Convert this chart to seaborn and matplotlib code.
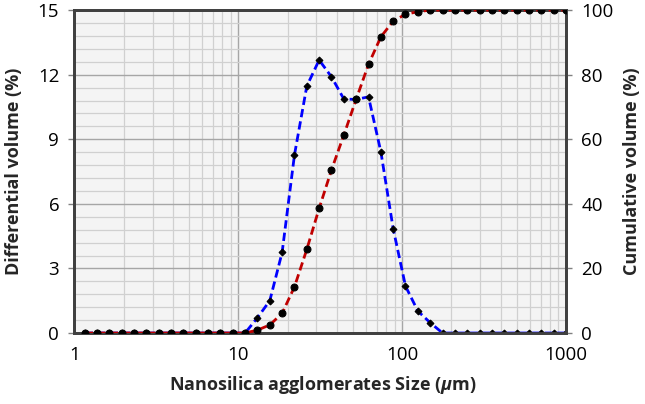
import numpy as np
import pandas as pd
import matplotlib
matplotlib.use("Agg")
import matplotlib.pyplot as plt
import seaborn as sns
from matplotlib.ticker import FixedLocator, NullFormatter, LogLocator

# particle size bins (um)
sizes = [1.154, 1.372, 1.632, 1.941, 2.309, 2.746, 3.266, 3.885, 4.620, 5.495,
         6.536, 7.775, 9.247, 11.00, 13.08, 15.56, 18.51, 22.01, 26.18, 31.14,
         37.04, 44.05, 52.40, 62.32, 74.13, 88.17, 104.8, 124.7, 148.3, 176.4,
         209.8, 249.5, 296.8, 353.0, 419.9, 499.4, 594.0, 706.5, 840.3, 1000.0]

# differential volume (%)
diff_vol = [0, 0, 0, 0, 0, 0, 0, 0, 0, 0,
            0, 0, 0, 0, 0.71, 1.50, 3.75, 8.27, 11.47, 12.68,
            11.90, 10.87, 10.85, 10.97, 8.42, 4.84, 2.18, 1.02, 0.48, 0,
            0, 0, 0, 0, 0, 0, 0, 0, 0, 0]

# cumulative volume (%)
cum_vol = [0, 0, 0, 0, 0, 0, 0, 0, 0, 0,
           0, 0, 0, 0, 0.9, 2.5, 6.1, 14.3, 25.9, 38.6,
           50.5, 61.3, 72.4, 83.2, 91.7, 96.6, 98.7, 99.5, 100, 100,
           100, 100, 100, 100, 100, 100, 100, 100, 100, 100]

left_ticks = [0, 3, 6, 9, 12, 15]
right_ticks = [0, 20, 40, 60, 80, 100]
x_ticks = [1, 10, 100, 1000]

df = pd.DataFrame({"size": sizes, "diff": diff_vol, "cum": cum_vol})

sns.set_style("white")
plt.rcParams["font.family"] = ["Open Sans", "DejaVu Sans"]
plt.rcParams["mathtext.fontset"] = "custom"
plt.rcParams["mathtext.it"] = "Open Sans:italic:bold"

fig = plt.figure(figsize=(6.45, 4.04), dpi=100)
ax = fig.add_axes([0.1155, 0.1757, 0.762, 0.7993])
ax.set_facecolor("#f4f4f4")
ax2 = ax.twinx()

sns.lineplot(data=df, x="size", y="diff", ax=ax, color="#0000ff", lw=2.0,
             linestyle=(0, (3, 1.5)), marker="D", markersize=3.5,
             markerfacecolor="black", markeredgecolor="black", zorder=3)
sns.lineplot(data=df, x="size", y="cum", ax=ax2, color="#c00000", lw=2.0,
             linestyle=(0, (3, 1.5)), marker="o", markersize=5,
             markerfacecolor="black", markeredgecolor="black", zorder=3)

ax.set_xscale("log")
ax.set_xlim(1, 1000)
ax.set_ylim(0, 15)
ax2.set_ylim(0, 100)

ax.xaxis.set_major_locator(FixedLocator(x_ticks))
ax.set_xticklabels([str(t) for t in x_ticks])
ax.xaxis.set_minor_locator(LogLocator(base=10, subs=np.arange(2, 10)))
ax.xaxis.set_minor_formatter(NullFormatter())
ax.set_yticks(left_ticks)
ax.set_yticks(np.arange(0, 15.01, 0.6), minor=True)
ax2.set_yticks(right_ticks)

ax.grid(True, which="major", color="#a6a6a6", lw=1.0)
ax.grid(True, which="minor", color="#d0d0d0", lw=0.9)
ax.set_axisbelow(True)

for a in (ax, ax2):
    for s in a.spines.values():
        s.set_color("#404040")
        s.set_linewidth(2.0)
    a.tick_params(which="major", length=4, width=1, color="#808080",
                  labelsize=13.5, labelcolor="#000000", pad=7)
    a.tick_params(which="minor", length=0)
ax.tick_params(axis="x", pad=5)

ax.set_xlabel("Nanosilica agglomerates Size ($\\mu$m)", fontsize=13, fontweight="bold")
ax.set_ylabel("Differential volume (%)", fontsize=13, fontweight="bold")
ax2.set_ylabel("Cumulative volume (%)", fontsize=13, fontweight="bold")
ax.xaxis.set_label_coords(0.505, -0.161)
ax.xaxis.label.set_va("center")
ax.yaxis.set_label_coords(-0.124, 0.5)
ax.yaxis.label.set_va("center")
ax2.yaxis.set_label_coords(1.134, 0.5)
ax2.yaxis.label.set_va("center")

fig.savefig("out.png", dpi=100)
